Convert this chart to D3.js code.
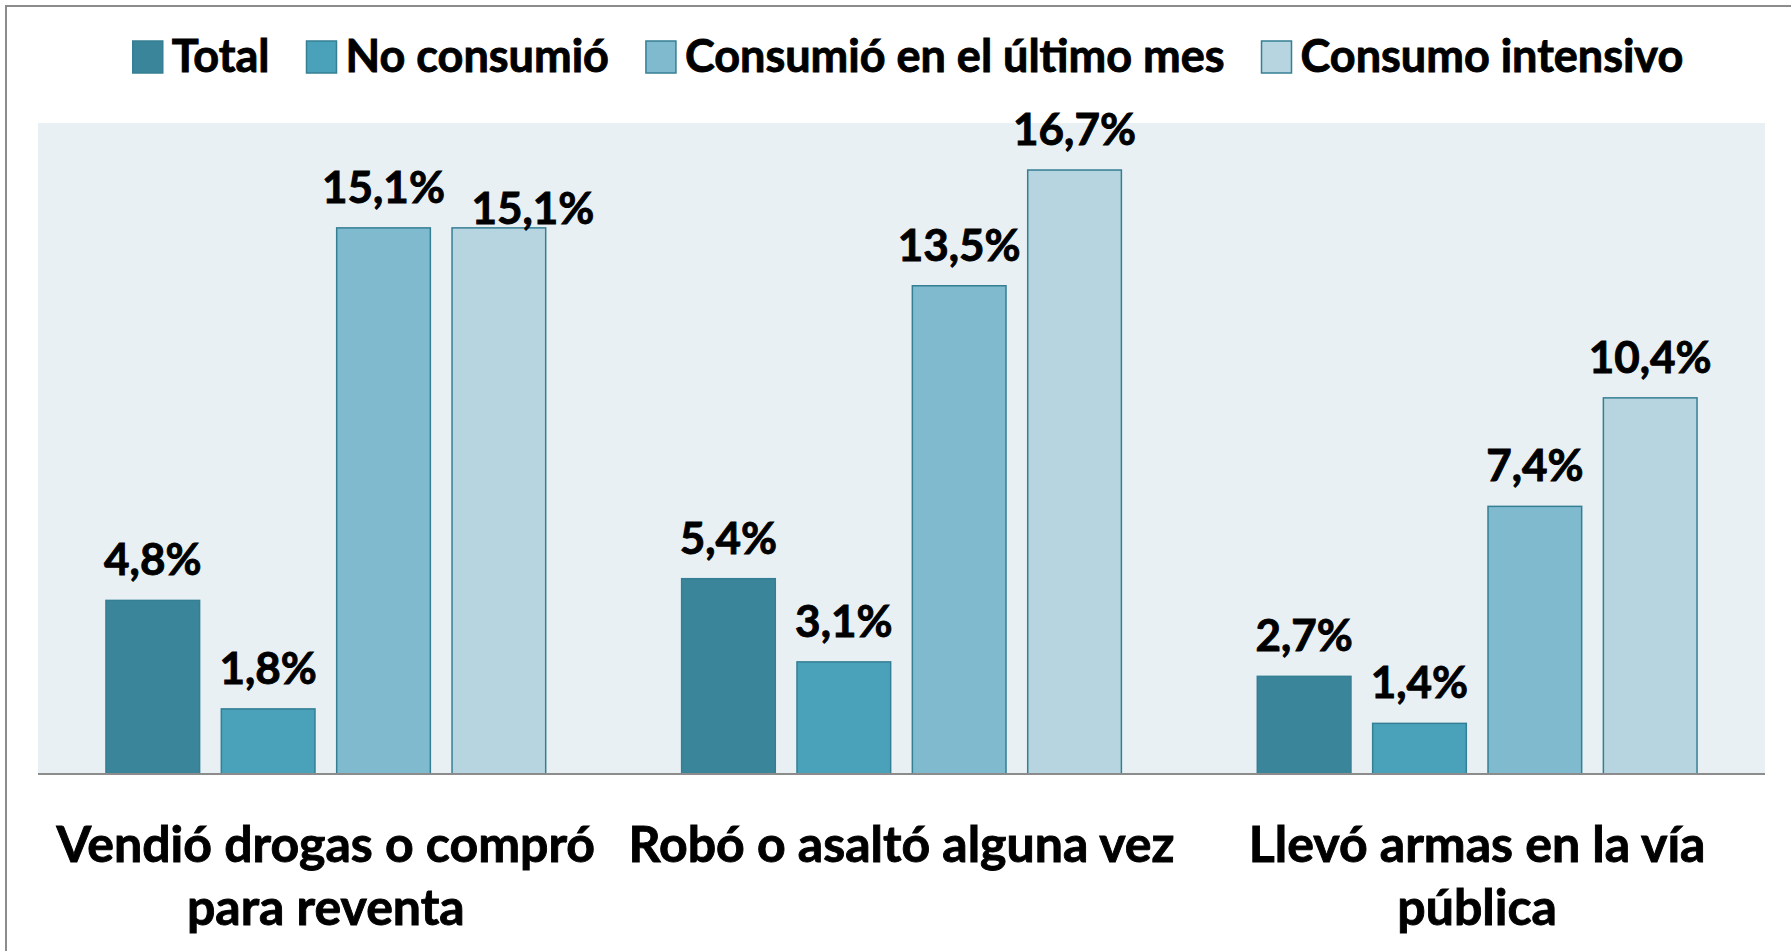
<!DOCTYPE html>
<html>
<head>
<meta charset="utf-8">
<script src="https://cdn.jsdelivr.net/npm/d3@7"></script>
<style>
  body { margin: 0; background: #fff; }
  svg { display: block; font-family: Lato, "Open Sans", sans-serif; }
  .heavy { stroke: #000; stroke-width: 0.9px; }
</style>
</head>
<body>
<svg id="chart"></svg>
<script>
// data
var categories = [
  ['Vendió drogas o compró', 'para reventa'],
  ['Robó o asaltó alguna vez'],
  ['Llevó armas en la vía', 'pública']
];
var seriesNames = ['Total', 'No consumió', 'Consumió en el último mes', 'Consumo intensivo'];
var total       = [4.8, 5.4, 2.7];
var noConsumio  = [1.8, 3.1, 1.4];
var ultimoMes   = [15.1, 13.5, 7.4];
var intensivo   = [15.1, 16.7, 10.4];
var colors = ['#3a8599', '#4aa2ba', '#7fbacf', '#b7d5e0'];

var width = 1791, height = 951;
var plot = { left: 38, right: 1765, top: 123, bottom: 774 };

var svg = d3.select('#chart').attr('width', width).attr('height', height);

// outer frame (only top/left visible in the picture)
svg.append('path')
  .attr('d', 'M6,' + height + 'V6H' + width)
  .attr('fill', 'none').attr('stroke', '#8c8c8c').attr('stroke-width', 2);

// plot area
svg.append('rect')
  .attr('x', plot.left).attr('y', plot.top)
  .attr('width', plot.right - plot.left).attr('height', plot.bottom - plot.top)
  .attr('fill', '#e8f0f4');

var values = [total, noConsumio, ultimoMes, intensivo];
var groups = categories.map(function(c, i) {
  return {
    idx: i,
    label: c,
    bars: seriesNames.map(function(s, j) { return { series: j, value: values[j][i], group: i }; })
  };
});

var x0 = d3.scaleBand()
  .domain(d3.range(categories.length))
  .range([plot.left, plot.right])
  .paddingInner(119 / 504)
  .paddingOuter(119 / 504 / 2);

var x1 = d3.scaleBand()
  .domain(d3.range(seriesNames.length))
  .range([0, x0.bandwidth()])
  .paddingInner(19 / 101);

var y = d3.scaleLinear().domain([0, 18]).range([plot.bottom, plot.top]);

var g = svg.selectAll('g.group')
  .data(groups).enter().append('g')
  .attr('class', 'group')
  .attr('transform', function(d) { return 'translate(' + x0(d.idx) + ',0)'; });

g.selectAll('rect.bar')
  .data(function(d) { return d.bars; }).enter().append('rect')
  .attr('class', 'bar')
  .attr('x', function(d) { return x1(d.series); })
  .attr('y', function(d) { return y(d.value); })
  .attr('width', x1.bandwidth())
  .attr('height', function(d) { return y(0) - y(d.value); })
  .attr('fill', function(d) { return colors[d.series]; })
  .attr('stroke', '#357f94')
  .attr('stroke-width', 1.5);

// Excel pushed one overlapping label aside
function nudge(d) {
  if (d.group === 0 && d.series === 3) return [34, 21];
  return [0, 0];
}

var fmt = function(v) { return d3.format('.1f')(v).replace('.', ',') + '%'; };

g.selectAll('text.val')
  .data(function(d) { return d.bars; }).enter().append('text')
  .attr('class', 'val heavy')
  .attr('x', function(d) { return x1(d.series) + x1.bandwidth() / 2 + nudge(d)[0]; })
  .attr('y', function(d) { return y(d.value) - 25 + nudge(d)[1]; })
  .attr('text-anchor', 'middle')
  .attr('font-size', 44)
  .attr('font-weight', 700)
  .attr('fill', '#000')
  .text(function(d) { return fmt(d.value); });

// axis line
svg.append('line')
  .attr('x1', plot.left).attr('x2', plot.right)
  .attr('y1', plot.bottom).attr('y2', plot.bottom)
  .attr('stroke', '#8c8c8c').attr('stroke-width', 2);

// category labels
g.each(function(d) {
  var t = d3.select(this).append('text')
    .attr('class', 'heavy')
    .attr('text-anchor', 'middle')
    .attr('font-size', 50)
    .attr('font-weight', 700)
    .attr('fill', '#000');
  d.label.forEach(function(line, k) {
    t.append('tspan')
      .attr('x', x0.bandwidth() / 2)
      .attr('y', 862 + k * 63)
      .text(line);
  });
});

// legend
var legend = svg.append('g').attr('class', 'legend');
var lx = 0;
seriesNames.forEach(function(name, i) {
  var item = legend.append('g').attr('transform', 'translate(' + lx + ',0)');
  item.append('rect')
    .attr('x', 0).attr('y', -16)
    .attr('width', 30).attr('height', 32)
    .attr('fill', colors[i])
    .attr('stroke', '#357f94').attr('stroke-width', 1.5);
  var txt = item.append('text')
    .attr('class', 'heavy')
    .attr('x', 39).attr('y', 15)
    .attr('font-size', 45)
    .attr('font-weight', 700)
    .attr('fill', '#000')
    .text(name);
  lx += 39 + txt.node().getComputedTextLength() + 37;
});
var legendW = lx - 37;
legend.attr('transform', 'translate(' + (908 - legendW / 2) + ',57)');
</script>
</body>
</html>
